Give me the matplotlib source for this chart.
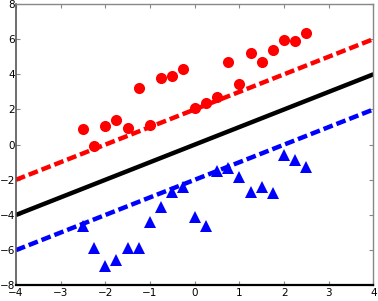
import matplotlib
matplotlib.use("Agg")
import matplotlib.pyplot as plt
import numpy as np

# data
xs = [-2.5, -2.25, -2.0, -1.75, -1.5, -1.25, -1.0, -0.75, -0.5, -0.25, 0.0,
      0.25, 0.5, 0.75, 1.0, 1.25, 1.5, 1.75, 2.0, 2.25, 2.5]
red_y = [0.87, -0.1, 1.06, 1.40, 0.94, 3.21, 1.09, 3.77, 3.91, 4.28, 2.06,
         2.38, 2.72, 4.70, 3.43, 5.19, 4.70, 5.38, 5.96, 5.89, 6.32]
blue_y = [-4.6, -5.9, -6.9, -6.55, -5.9, -5.9, -4.38, -3.54, -2.67, -2.4, -4.13,
          -4.65, -1.52, -1.31, -1.83, -2.7, -2.4, -2.74, -0.59, -0.9, -1.26]

line_x = [-4, 4]
w = 1.0          # slope of separating line
b = 0.0          # offset of separating line
margin = 2.0     # offset of the dashed margin lines

xticks = [-4, -3, -2, -1, 0, 1, 2, 3, 4]
yticks = [-8, -6, -4, -2, 0, 2, 4, 6, 8]

fig = plt.figure(figsize=(3.78, 3.01), dpi=100)
ax = fig.add_axes([0.042, 0.052, 0.946, 0.935])

lx = np.array(line_x, dtype=float)
ax.plot(lx, w * lx + b, color='black', lw=3.2, solid_capstyle='butt', zorder=2)
ax.plot(lx, w * lx + b + margin, color='red', lw=3.2, ls=(0, (2.2, 0.9)), zorder=2)
ax.plot(lx, w * lx + b - margin, color='blue', lw=3.2, ls=(0, (2.2, 0.9)), zorder=2)

ax.plot(xs, red_y, 'o', color='red', markersize=8, markeredgewidth=0, zorder=3)
ax.plot(xs, blue_y, '^', color='blue', markersize=9, markeredgewidth=0, zorder=3)

ax.set_xlim(-4, 4)
ax.set_ylim(-8, 8)
ax.set_xticks(xticks)
ax.set_yticks(yticks)
ax.tick_params(direction='in', length=3, width=0.8, color='#888888',
               labelsize=7.5, top=True, right=True, pad=0.5)
ax.tick_params(axis='x', pad=2)

for side in ['top', 'right']:
    ax.spines[side].set_color('#888888')
    ax.spines[side].set_linewidth(1.0)
ax.spines['left'].set_color('#555555')
ax.spines['left'].set_linewidth(1.2)
ax.spines['bottom'].set_color('black')
ax.spines['bottom'].set_linewidth(1.6)

fig.savefig('out.png', dpi=100)
